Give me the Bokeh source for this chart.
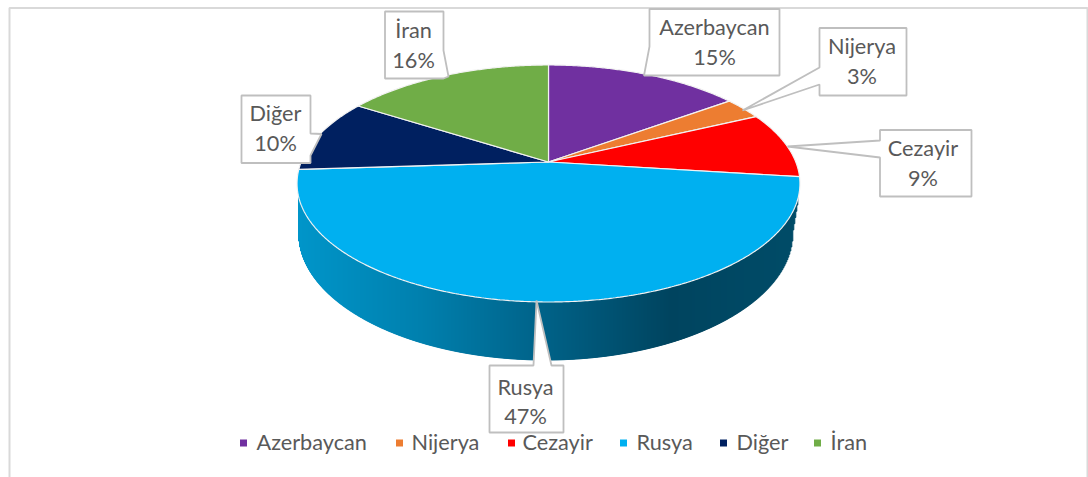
import numpy as np
from bokeh.plotting import figure
from bokeh.embed import file_html
from bokeh.resources import INLINE
from bokeh.core.properties import value
from bokeh.models import Range1d

categories = ["Azerbaycan", "Nijerya", "Cezayir", "Rusya", "Diğer", "İran"]
shares = [15, 3, 9, 47, 10, 16]
colors = ["#7030A0", "#ED7D31", "#FF0000", "#00B0F0", "#002060", "#70AD47"]

TEXT = "#595959"
FONT = value("Lato")
FS = "21.7px"

p = figure(width=1088, height=477, output_backend="svg", toolbar_location=None,
           x_range=Range1d(0, 1088), y_range=Range1d(477, 0), min_border=0,
           outline_line_color=None, background_fill_color="white")
p.axis.visible = False
p.grid.visible = False

# chart frame
p.line([9, 9, 1087, 1087], [477, 7.5, 7.5, 477], line_color="#D9D9D9", line_width=2)

# perspective projection of the pie's disc
CX, CY, A, B, K = 548.0, 161.5, 247.3, 114.6, 0.1814
def project(deg):
    t = np.radians(deg)
    u, v = np.sin(t), np.cos(t)
    d = 1 + K * v
    return CX + A * u / d, CY - B * v / d

# side wall: vertical strips with a horizontal gradient
stops_x = [299, 420, 530, 670, 800]
stops_rgb = np.array([[0, 149, 201], [0, 128, 174], [0, 101, 140], [0, 68, 95], [0, 76, 104]], float)
W_CX, W_CY, W_A, W_B = 545.0, 232.5, 247.0, 127.0
xs = np.arange(298, 797, 1.0)
left, right, tops, bottoms, cols = [], [], [], [], []
for x in xs:
    r = (x + 0.5 - W_CX) / W_A
    if abs(r) < 1:
        yb = W_CY + W_B * np.sqrt(1 - r * r)
    else:
        yb = W_CY - (x + 0.5 - (W_CX + W_A)) * 6.2
    rgb = [int(round(np.interp(x, stops_x, stops_rgb[:, i]))) for i in range(3)]
    left.append(x); right.append(x + 1.3); tops.append(195); bottoms.append(yb)
    cols.append("#%02x%02x%02x" % tuple(rgb))
p.quad(left=left, right=right, top=tops, bottom=bottoms, fill_color=cols, fill_alpha=1.0,
       line_color=cols, line_alpha=1.0, line_width=1)

# top faces
edges = np.cumsum([0] + shares) * 3.6
for i, c in enumerate(colors):
    a = np.linspace(edges[i], edges[i + 1], max(2, int(shares[i] * 8)))
    px, py = project(a)
    p.patch(np.r_[CX, px], np.r_[CY, py], fill_color=c, line_color="#F2F2F2", line_width=1.2)

# callouts: outline including the pointer
callouts = [
    [(649, 8.5), (779, 8.5), (779, 75), (649, 75), (643.5, 75), (649, 46)],
    [(819, 27.5), (906, 27.5), (906, 95), (819, 95), (819, 84), (742, 110), (819, 67)],
    [(879.5, 129.5), (971, 129.5), (971, 196), (879.5, 196), (879.5, 157), (787, 146), (879.5, 140)],
    [(489, 365), (533, 365), (536, 300), (551, 365), (563, 365), (563, 432), (489, 432)],
    [(241, 95), (310, 95), (310, 133), (321, 133.5), (310, 155), (310, 162.5), (241, 162.5)],
    [(384.5, 11), (443, 11), (443, 50), (448, 76), (443, 78), (384.5, 78)],
]
label_x = [714, 861.5, 922.5, 525, 275, 413]
label_y1 = [26.5, 45.5, 147.5, 386.5, 112.5, 29.5]
label_y2 = [56.5, 75.5, 177.5, 415.5, 142.5, 59.5]
for poly in callouts:
    p.patch([q[0] for q in poly], [q[1] for q in poly], fill_color="white",
            line_color="#BFBFBF", line_width=1.8)
p.text(label_x, label_y1, text=categories, text_font=FONT, text_font_size=FS, text_color=TEXT,
       text_align="center", text_baseline="middle")
p.text(label_x, label_y2, text=[f"{s}%" for s in shares], text_font=FONT, text_font_size=FS,
       text_color=TEXT, text_align="center", text_baseline="middle")

# legend
sq_x = [243, 399, 511, 623, 723, 817]
tx_x = [256, 411, 522, 636, 736, 830]
LEG_Y = 441.5
p.rect(sq_x, [LEG_Y + 1] * 6, width=7, height=7, fill_color=colors, line_color=None)
p.text(tx_x, [LEG_Y] * 6, text=categories, text_font=FONT, text_font_size=FS, text_color=TEXT,
       text_align="left", text_baseline="middle")

open("out.html", "w").write(file_html(p, INLINE))
